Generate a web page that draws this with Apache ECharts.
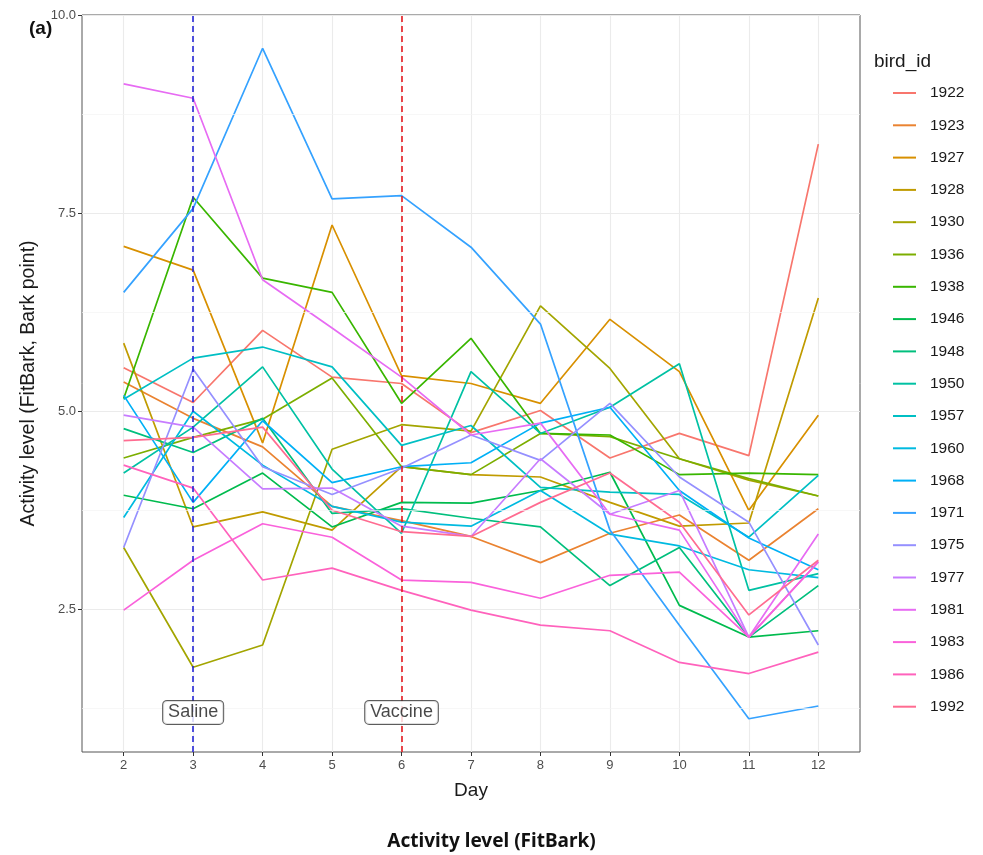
<!DOCTYPE html>
<html>
<head>
<meta charset="utf-8">
<script src="https://cdn.jsdelivr.net/npm/echarts@6/dist/echarts.min.js"></script>
<style>
  html, body { margin: 0; padding: 0; background: #ffffff; }
  #chart { width: 983px; height: 855px; }
</style>
</head>
<body>
<div id="chart"></div>
<script>
// Days of the trial (x axis)
const days = [2, 3, 4, 5, 6, 7, 8, 9, 10, 11, 12];

// Bird identifiers (legend order)
const birdIds = ['1922', '1923', '1927', '1928', '1930', '1936', '1938', '1946', '1948', '1950',
                 '1957', '1960', '1968', '1971', '1975', '1977', '1981', '1983', '1986', '1992'];

// Daily activity level (FitBark, Bark point) per bird
const bird1922 = [5.55, 5.11, 6.02, 5.43, 5.35, 4.73, 5.01, 4.41, 4.72, 4.44, 8.37];
const bird1923 = [5.37, 4.91, 4.55, 3.80, 3.62, 3.42, 3.09, 3.46, 3.69, 3.12, 3.77];
const bird1927 = [7.08, 6.78, 4.60, 7.35, 5.45, 5.35, 5.10, 6.16, 5.50, 3.75, 4.95];
const bird1928 = [5.86, 3.54, 3.73, 3.50, 4.30, 4.20, 4.17, 3.85, 3.55, 3.59, 6.43];
const bird1930 = [3.28, 1.77, 2.05, 4.52, 4.83, 4.75, 6.33, 5.54, 4.40, 4.13, 3.93];
const bird1936 = [4.41, 4.67, 4.90, 5.42, 4.30, 4.20, 4.72, 4.68, 4.40, 4.15, 3.93];
const bird1938 = [5.16, 7.70, 6.68, 6.50, 5.10, 5.92, 4.72, 4.70, 4.20, 4.22, 4.20];
const bird1946 = [3.94, 3.77, 4.22, 3.54, 3.85, 3.84, 4.00, 4.23, 2.55, 2.15, 2.23];
const bird1948 = [4.78, 4.48, 4.91, 3.71, 3.77, 3.65, 3.54, 2.80, 3.28, 2.15, 2.80];
const bird1950 = [4.22, 4.80, 5.56, 4.27, 3.46, 5.50, 4.72, 5.05, 5.60, 2.74, 2.95];
const bird1957 = [5.15, 5.67, 5.81, 5.56, 4.57, 4.82, 4.04, 3.98, 3.95, 3.41, 4.19];
const bird1960 = [3.66, 5.00, 4.32, 3.80, 3.60, 3.55, 4.00, 3.45, 3.30, 3.00, 2.90];
const bird1968 = [5.20, 3.85, 4.88, 4.10, 4.30, 4.35, 4.85, 5.05, 4.00, 3.40, 3.00];
const bird1971 = [6.50, 7.56, 9.58, 7.68, 7.72, 7.07, 6.10, 3.50, 2.30, 1.12, 1.28];
const bird1975 = [3.28, 5.53, 4.30, 3.95, 4.28, 4.70, 4.38, 5.10, 4.17, 3.60, 2.05];
const bird1977 = [4.95, 4.80, 4.02, 4.03, 3.55, 3.42, 4.40, 3.70, 4.00, 2.15, 3.10];
const bird1981 = [9.13, 8.95, 6.66, 6.05, 5.43, 4.70, 4.85, 3.70, 3.50, 2.15, 3.45];
const bird1983 = [2.49, 3.12, 3.58, 3.41, 2.87, 2.84, 2.64, 2.93, 2.97, 2.15, 3.10];
const bird1986 = [4.32, 4.03, 2.87, 3.02, 2.74, 2.49, 2.30, 2.23, 1.83, 1.69, 1.96];
const bird1992 = [4.63, 4.67, 4.80, 3.75, 3.48, 3.42, 3.85, 4.22, 3.60, 2.43, 3.12];

const birdValues = [bird1922, bird1923, bird1927, bird1928, bird1930, bird1936, bird1938, bird1946,
                    bird1948, bird1950, bird1957, bird1960, bird1968, bird1971, bird1975, bird1977,
                    bird1981, bird1983, bird1986, bird1992];

// Default discrete hue palette, one colour per bird
const birdColors = ['#F8766D', '#EA8331', '#D89000', '#C09B00', '#A3A500', '#7CAE00', '#39B600',
                    '#00BB4E', '#00BF7D', '#00C1A3', '#00BFC4', '#00BAE0', '#00B0F6', '#35A2FF',
                    '#9590FF', '#C77CFF', '#E76BF3', '#FA62DB', '#FF62BC', '#FF6C91'];

// Axis ticks and minor grid
const yTicks = [2.5, 5.0, 7.5, 10.0];
const yMinor = [1.25, 3.75, 6.25, 8.75];

// Treatment events
const eventDays = [3, 6];
const eventNames = ['Saline', 'Vaccine'];
const eventColors = ['#2626d6', '#e51a1f'];
const eventLabelLevel = 1.2;

const FONT = 'Liberation Sans, Arial, sans-serif';
const chart = echarts.init(document.getElementById('chart'), null, { renderer: 'canvas' });

const lineSeries = birdIds.map((id, k) => ({
  name: id,
  type: 'line',
  data: days.map((d, i) => [d, birdValues[k][i]]),
  symbol: 'none',
  color: birdColors[k],
  lineStyle: { width: 1.7, color: birdColors[k] },
  z: 3,
  animation: false
}));

const minorGrid = {
  type: 'line',
  data: [],
  silent: true,
  z: 1,
  markLine: {
    silent: true,
    symbol: 'none',
    label: { show: false },
    animation: false,
    lineStyle: { color: '#f4f4f4', width: 0.7, type: 'solid' },
    data: yMinor.map(v => ({ yAxis: v }))
  }
};

const eventLines = {
  type: 'line',
  data: [],
  silent: true,
  z: 5,
  markLine: {
    silent: true,
    symbol: 'none',
    label: { show: false },
    animation: false,
    data: eventDays.map((d, i) => ({
      xAxis: d,
      lineStyle: { color: eventColors[i], width: 1.6, type: [6, 4] }
    }))
  }
};

const eventLabels = {
  type: 'scatter',
  symbolSize: 0,
  silent: true,
  z: 6,
  animation: false,
  data: eventDays.map(d => [d, eventLabelLevel]),
  label: {
    show: true,
    position: 'inside',
    formatter: p => eventNames[p.dataIndex],
    fontFamily: FONT,
    fontSize: 18,
    color: '#1a1a1a',
    backgroundColor: '#ffffff',
    borderColor: '#333333',
    borderWidth: 1,
    borderRadius: 4,
    padding: [3, 5, 2, 5]
  }
};

chart.setOption({
  animation: false,
  backgroundColor: '#ffffff',
  textStyle: { fontFamily: FONT },
  title: [
    { text: '(a)', left: 24, top: 14, textStyle: { fontSize: 19, fontWeight: 'bold', color: '#111', fontFamily: FONT } },
    { text: 'bird_id', left: 869, top: 47, textStyle: { fontSize: 19, fontWeight: 'normal', color: '#1a1a1a', fontFamily: FONT } },
    { text: 'Activity level (FitBark)', left: 'center', top: 827, textStyle: { fontSize: 19, fontWeight: 'bold', color: '#111', fontFamily: 'Noto Sans, sans-serif' } }
  ],
  grid: {
    left: 82, right: 123, top: 15, bottom: 103,
    show: true, borderColor: '#555555', borderWidth: 1, backgroundColor: 'transparent'
  },
  legend: {
    orient: 'vertical',
    left: 888,
    top: 80,
    icon: 'rect',
    itemWidth: 23,
    itemHeight: 2,
    itemGap: 16.3,
    data: birdIds,
    textStyle: { fontSize: 15.5, lineHeight: 16, color: '#1a1a1a', padding: [0, 0, 0, 9] },
    selectedMode: false
  },
  xAxis: {
    type: 'value',
    min: 1.4,
    max: 12.6,
    name: 'Day',
    nameLocation: 'middle',
    nameGap: 29,
    nameTextStyle: { fontSize: 19, color: '#1a1a1a' },
    axisLine: { show: false },
    axisTick: { show: true, length: 4, customValues: days, lineStyle: { color: '#333' } },
    axisLabel: { customValues: days, fontSize: 13, color: '#4d4d4d', margin: 7 },
    splitLine: { show: true, lineStyle: { color: '#ebebeb', width: 1.1 } }
  },
  yAxis: {
    type: 'value',
    min: 0.7,
    max: 10,
    name: 'Activity level (FitBark, Bark point)',
    nameLocation: 'middle',
    nameGap: 43,
    nameTextStyle: { fontSize: 19.5, color: '#1a1a1a' },
    axisLine: { show: false },
    axisTick: { show: true, length: 4, customValues: yTicks, lineStyle: { color: '#333' } },
    axisLabel: { customValues: yTicks, fontSize: 13, color: '#4d4d4d', margin: 6, formatter: v => v.toFixed(1) },
    splitLine: { show: true, lineStyle: { color: '#ebebeb', width: 1.1 } }
  },
  series: [minorGrid, ...lineSeries, eventLines, eventLabels]
});
</script>
</body>
</html>
